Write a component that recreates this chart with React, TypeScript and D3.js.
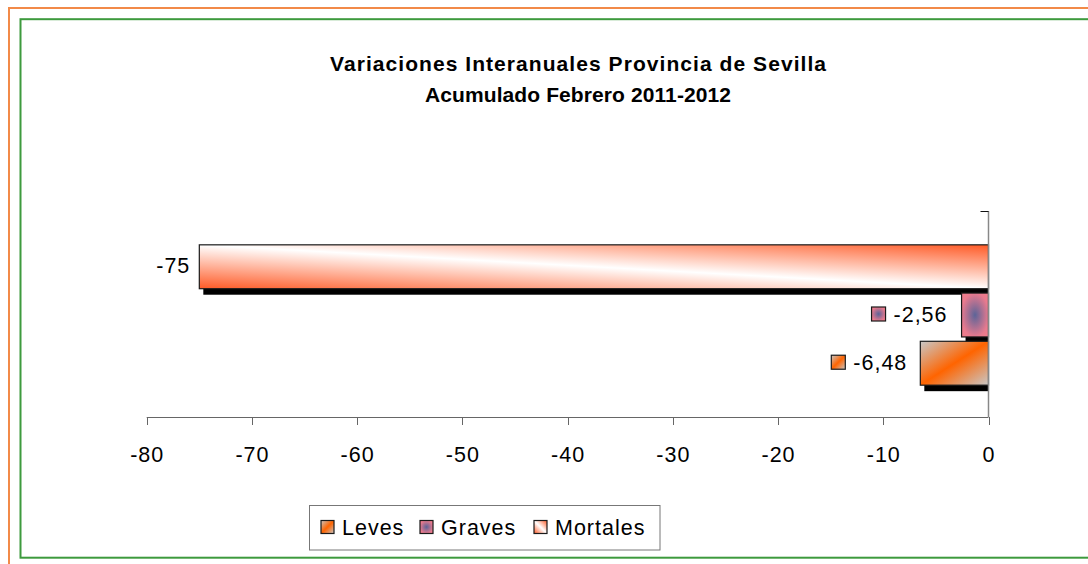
import { useEffect, useRef } from 'react'
import * as d3 from 'd3'

// series top to bottom, as drawn
const series = ['Mortales', 'Graves', 'Leves']
const values = [-75, -2.56, -6.48]
const valueLabels = ['-75', '-2,56', '-6,48']
const legendOrder = ['Leves', 'Graves', 'Mortales']
const xTicks = [-80, -70, -60, -50, -40, -30, -20, -10, 0]
const titleLines = ['Variaciones Interanuales Provincia de Sevilla', 'Acumulado Febrero 2011-2012']

const FONT = '"Liberation Sans", Arial, sans-serif'

export default function App() {
  const ref = useRef<SVGSVGElement>(null)

  useEffect(() => {
    const svg = d3.select(ref.current)
    svg.selectAll('*').remove()

    const W = 1088
    const H = 564
    const plot = { left: 146.7, right: 988.5, top: 211, bottom: 417 }

    const defs = svg.append('defs')

    const mort = defs.append('linearGradient').attr('id', 'g-Mortales')
      .attr('x1', 0).attr('y1', 1).attr('x2', 1).attr('y2', 0)
    mort.append('stop').attr('offset', 0).attr('stop-color', '#ff5a26')
    mort.append('stop').attr('offset', 0.5).attr('stop-color', '#ffffff')
    mort.append('stop').attr('offset', 1).attr('stop-color', '#ff5a26')

    const grav = defs.append('radialGradient').attr('id', 'g-Graves')
      .attr('cx', 0.5).attr('cy', 0.5).attr('r', 0.6)
    grav.append('stop').attr('offset', 0).attr('stop-color', '#5c6498')
    grav.append('stop').attr('offset', 0.85).attr('stop-color', '#ea7a8e')
    grav.append('stop').attr('offset', 1).attr('stop-color', '#ee7c8c')

    const lev = defs.append('linearGradient').attr('id', 'g-Leves')
      .attr('x1', 0).attr('y1', 0).attr('x2', 1).attr('y2', 1)
    lev.append('stop').attr('offset', 0).attr('stop-color', '#c8c8c8')
    lev.append('stop').attr('offset', 0.5).attr('stop-color', '#ff6400')
    lev.append('stop').attr('offset', 1).attr('stop-color', '#c8c8c8')

    // page frames
    svg.append('rect').attr('x', 0).attr('y', 0).attr('width', W).attr('height', H).attr('fill', '#fff')
    svg.append('rect').attr('x', 9).attr('y', 8).attr('width', W + 20).attr('height', H + 20)
      .attr('fill', 'none').attr('stroke', '#f28a48').attr('stroke-width', 2)
    svg.append('rect').attr('x', 20.5).attr('y', 19.2).attr('width', W + 20).attr('height', 538.5)
      .attr('fill', 'none').attr('stroke', '#3d9a3d').attr('stroke-width', 2)

    // title
    const titleLengths = [496, 306]
    titleLines.forEach((t, i) => {
      svg.append('text')
        .attr('x', 578).attr('y', 71 + i * 31)
        .attr('text-anchor', 'middle')
        .attr('font-family', FONT).attr('font-weight', 'bold').attr('font-size', 21)
        .attr('textLength', titleLengths[i]).attr('lengthAdjust', 'spacing')
        .text(t)
    })

    const x = d3.scaleLinear().domain([-80, 0]).range([plot.left, plot.right])
    const y = d3.scaleBand().domain(series).range([213, plot.bottom]).paddingInner(0.09).paddingOuter(0.66)

    // shadows
    svg.append('g').selectAll('rect').data(series).join('rect')
      .attr('x', (d, i) => x(values[i]) + 4)
      .attr('y', d => (y(d) as number) + 6)
      .attr('width', (d, i) => x(0) - x(values[i]) - 4)
      .attr('height', y.bandwidth())
      .attr('fill', '#000')

    // bars
    svg.append('g').selectAll('rect').data(series).join('rect')
      .attr('x', (d, i) => x(values[i]))
      .attr('y', d => y(d) as number)
      .attr('width', (d, i) => x(0) - x(values[i]))
      .attr('height', y.bandwidth())
      .attr('fill', d => `url(#g-${d})`)
      .attr('stroke', '#1a1a1a').attr('stroke-width', 1.2)

    // x axis
    const ax = svg.append('g').attr('stroke', '#666')
    ax.append('line').attr('x1', plot.left).attr('x2', plot.right)
      .attr('y1', plot.bottom + 0.5).attr('y2', plot.bottom + 0.5)
    xTicks.forEach(t => {
      ax.append('line').attr('x1', Math.round(x(t)) + 0.5).attr('x2', Math.round(x(t)) + 0.5)
        .attr('y1', plot.bottom).attr('y2', plot.bottom + 8)
    })
    svg.append('g').selectAll('text').data(xTicks).join('text')
      .attr('x', d => x(d) + 0.5).attr('y', 462)
      .attr('text-anchor', 'middle')
      .attr('font-family', FONT).attr('font-size', 21.5).attr('letter-spacing', 1)
      .text(d => String(d))

    // y axis (right side, at 0)
    svg.append('line').attr('x1', plot.right).attr('x2', plot.right)
      .attr('y1', plot.top).attr('y2', plot.bottom)
      .attr('stroke', '#888').attr('stroke-width', 1.5)
    svg.append('line').attr('x1', plot.right - 8).attr('x2', plot.right)
      .attr('y1', plot.top + 0.5).attr('y2', plot.top + 0.5)
      .attr('stroke', '#111')

    // data labels
    const labelGap = [9, 14, 13]
    const withKey = [false, true, true]
    series.forEach((s, i) => {
      const cy = (y(s) as number) + y.bandwidth() / 2
      const tx = x(values[i]) - labelGap[i]
      const txt = svg.append('text')
        .attr('x', tx).attr('y', cy + 6.5)
        .attr('text-anchor', 'end')
        .attr('font-family', FONT).attr('font-size', 21.5).attr('letter-spacing', 1)
        .text(valueLabels[i])
      if (withKey[i]) {
        const w = (txt.node() as SVGTextElement).getComputedTextLength()
        svg.append('rect')
          .attr('x', tx - w - 22).attr('y', cy - 8)
          .attr('width', 14).attr('height', 14)
          .attr('fill', `url(#g-${s})`)
          .attr('stroke', '#1a1a1a').attr('stroke-width', 1.2)
      }
    })

    // legend
    svg.append('rect').attr('x', 309.5).attr('y', 505.5).attr('width', 350.5).attr('height', 44.5)
      .attr('fill', '#fff').attr('stroke', '#777').attr('stroke-width', 1)
    const keyX = [321, 420, 534]
    legendOrder.forEach((s, i) => {
      svg.append('rect')
        .attr('x', keyX[i]).attr('y', 520.5).attr('width', 13).attr('height', 13)
        .attr('fill', `url(#g-${s})`)
        .attr('stroke', '#1a1a1a').attr('stroke-width', 1.2)
      svg.append('text')
        .attr('x', keyX[i] + 21).attr('y', 534.5)
        .attr('font-family', FONT).attr('font-size', 21.5).attr('letter-spacing', 1)
        .text(s)
    })
  }, [])

  return (
    <div style={{ position: 'absolute', left: 0, top: 0 }}>
      <svg ref={ref} width={1088} height={564} style={{ display: 'block' }} />
    </div>
  )
}
